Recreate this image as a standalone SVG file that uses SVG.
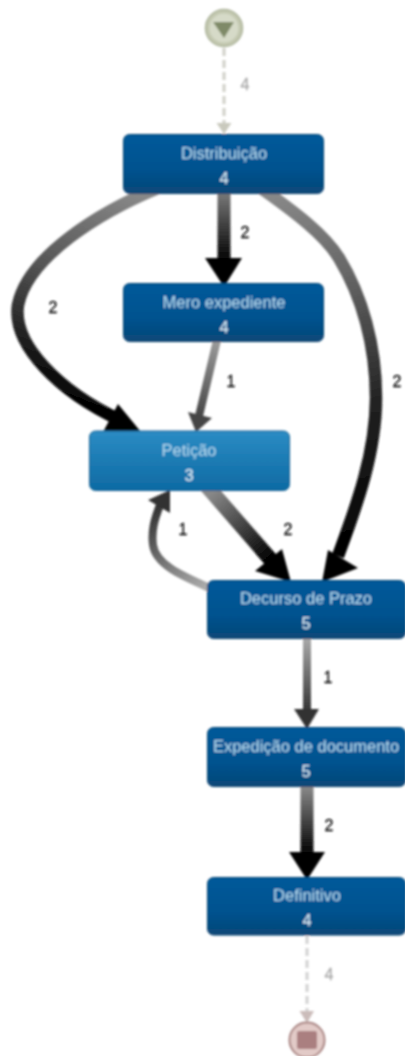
<svg xmlns="http://www.w3.org/2000/svg" width="405" height="1056" viewBox="0 0 405 1056">
<style>
.e{fill:none;stroke-linecap:butt}
.n{stroke:#0b3f6c;stroke-width:1}
.t{font-family:"Liberation Sans",Arial,sans-serif;font-size:16.5px;text-anchor:middle;fill:#b4daf0}
.c{font-family:"Liberation Sans",Arial,sans-serif;font-size:16.5px;text-anchor:middle;fill:#e2f2fb}
.l{font-family:"Liberation Sans",Arial,sans-serif;font-size:16px;text-anchor:middle;fill:#111;stroke:#111;stroke-width:0.3}
.g{fill:#aaa;stroke:#aaa}
</style>
<defs>
<filter id="b" x="-5%" y="-5%" width="110%" height="110%"><feGaussianBlur stdDeviation="0.8"/></filter>
<linearGradient id="d" x1="0" y1="0" x2="0" y2="1"><stop offset="0" stop-color="#005a9a"/><stop offset="0.6" stop-color="#03528f"/><stop offset="1" stop-color="#084877"/></linearGradient>
<linearGradient id="p" x1="0" y1="0" x2="0" y2="1"><stop offset="0" stop-color="#2b8cc4"/><stop offset="1" stop-color="#0e6aa3"/></linearGradient>
<linearGradient id="a1" gradientUnits="userSpaceOnUse" x1="224" y1="194" x2="224" y2="262"><stop offset="0" stop-color="#777"/><stop offset="1" stop-color="#000"/></linearGradient>
<linearGradient id="a2" gradientUnits="userSpaceOnUse" x1="140" y1="196" x2="60" y2="400"><stop offset="0" stop-color="#888"/><stop offset="0.45" stop-color="#555"/><stop offset="1" stop-color="#000"/></linearGradient>
<linearGradient id="a3" gradientUnits="userSpaceOnUse" x1="270" y1="196" x2="350" y2="560"><stop offset="0" stop-color="#888"/><stop offset="0.25" stop-color="#666"/><stop offset="0.6" stop-color="#222"/><stop offset="1" stop-color="#000"/></linearGradient>
<linearGradient id="a4" gradientUnits="userSpaceOnUse" x1="216" y1="342" x2="199" y2="418"><stop offset="0" stop-color="#999"/><stop offset="1" stop-color="#444"/></linearGradient>
<linearGradient id="a5" gradientUnits="userSpaceOnUse" x1="213" y1="492" x2="270" y2="560"><stop offset="0" stop-color="#888"/><stop offset="1" stop-color="#000"/></linearGradient>
<linearGradient id="a6" gradientUnits="userSpaceOnUse" x1="207" y1="585" x2="158" y2="506"><stop offset="0" stop-color="#aaa"/><stop offset="1" stop-color="#333"/></linearGradient>
<linearGradient id="a7" gradientUnits="userSpaceOnUse" x1="307" y1="638" x2="307" y2="712"><stop offset="0" stop-color="#aaa"/><stop offset="1" stop-color="#333"/></linearGradient>
<linearGradient id="a8" gradientUnits="userSpaceOnUse" x1="307" y1="787" x2="307" y2="855"><stop offset="0" stop-color="#888"/><stop offset="1" stop-color="#000"/></linearGradient>
</defs>
<rect width="405" height="1056" fill="#fff"/>
<g filter="url(#b)">
<g id="connectors">
<path class="e" d="M224 48V125" stroke="#d0d0c8" stroke-width="3" stroke-dasharray="8 4"/>
<path d="M216.500 123H231.500L224 134Z" fill="#c9c9bd"/>
<path class="e" d="M224 190V262" stroke="url(#a1)" stroke-width="13"/>
<path d="M205 258H242L224 287Z" fill="#000"/>
<path class="e" d="M158 188C100 212 28 256 18 305C12 345 60 392 120 420" stroke="url(#a2)" stroke-width="12.500"/>
<path d="M118 404L141 432H103Z" fill="#000"/>
<path class="e" d="M258 186C295 212 325 235 339 258C362 296 376 345 376 398C376 455 355 510 338 556" stroke="url(#a3)" stroke-width="12.500"/>
<path d="M328 550L358 568L322 582Z" fill="#000"/>
<path class="e" d="M218 336L199 416" stroke="url(#a4)" stroke-width="8"/>
<path d="M188 412L212 418L196 432Z" fill="#444"/>
<path class="e" d="M205 484L271 560" stroke="url(#a5)" stroke-width="15"/>
<path d="M282 549L255 571L291 582Z" fill="#000"/>
<path class="e" d="M214 590C185 577 156 566 153 545C151 530 155 518 160 505" stroke="url(#a6)" stroke-width="8"/>
<path d="M148 500L170 513L170 490Z" fill="#333"/>
<path class="e" d="M307 634V712" stroke="url(#a7)" stroke-width="8"/>
<path d="M294 709H319L307 729Z" fill="#333"/>
<path class="e" d="M307 783V855" stroke="url(#a8)" stroke-width="13"/>
<path d="M289 852H325L307 880Z" fill="#000"/>
<path class="e" d="M307 936V1013" stroke="#d2d2d2" stroke-width="3" stroke-dasharray="8 4"/>
<path d="M299.500 1011H314L307 1023Z" fill="#cbbcba"/>
</g>
<text class="l g" x="245" y="90">4</text>
<text class="l" x="245" y="238">2</text>
<text class="l" x="53" y="313">2</text>
<text class="l" x="231" y="387">1</text>
<text class="l" x="397" y="387">2</text>
<text class="l" x="183" y="535">1</text>
<text class="l" x="288" y="535">2</text>
<text class="l" x="328" y="683">1</text>
<text class="l" x="329" y="831">2</text>
<text class="l g" x="329" y="980">4</text>
<g id="start"><circle cx="224" cy="28" r="18.500" fill="#c3c8b0" stroke="#aeb59c" stroke-width="1.500"/><circle cx="224" cy="28" r="14.500" fill="#d6dac8"/><path d="M213 22H234L224 38Z" fill="#7f8a68"/></g>
<g id="distribuicao"><rect class="n" x="123.500" y="134.500" width="200" height="59" rx="6" fill="url(#d)"/><text class="t" x="224" y="159">Distribuição</text><text class="c" x="224" y="184">4</text></g>
<g id="mero"><rect class="n" x="123.500" y="283.500" width="200" height="58" rx="6" fill="url(#d)"/><text class="t" x="224" y="308">Mero expediente</text><text class="c" x="224" y="333">4</text></g>
<g id="peticao"><rect class="n" x="89.500" y="431" width="200" height="59.500" rx="6" fill="url(#p)" style="stroke:#1a5f8f"/><text class="t" x="189" y="456">Petição</text><text class="c" x="189" y="481">3</text></g>
<g id="decurso"><rect class="n" x="207.500" y="580.500" width="198" height="58" rx="6" fill="url(#d)"/><text class="t" x="306" y="604">Decurso de Prazo</text><text class="c" x="306" y="629">5</text></g>
<g id="expedicao"><rect class="n" x="207.500" y="727.500" width="198" height="59" rx="6" fill="url(#d)"/><text class="t" x="306" y="752">Expedição de documento</text><text class="c" x="306" y="777">5</text></g>
<g id="definitivo"><rect class="n" x="207.500" y="877.500" width="198" height="57.500" rx="6" fill="url(#d)"/><text class="t" x="307" y="901">Definitivo</text><text class="c" x="307" y="926">4</text></g>
<g id="end"><circle cx="307" cy="1040" r="17.500" fill="#e2cac7" stroke="#a98482" stroke-width="2"/><rect x="297" y="1031" width="20" height="18" rx="2" fill="#aa7f80"/></g>
</g>
</svg>
